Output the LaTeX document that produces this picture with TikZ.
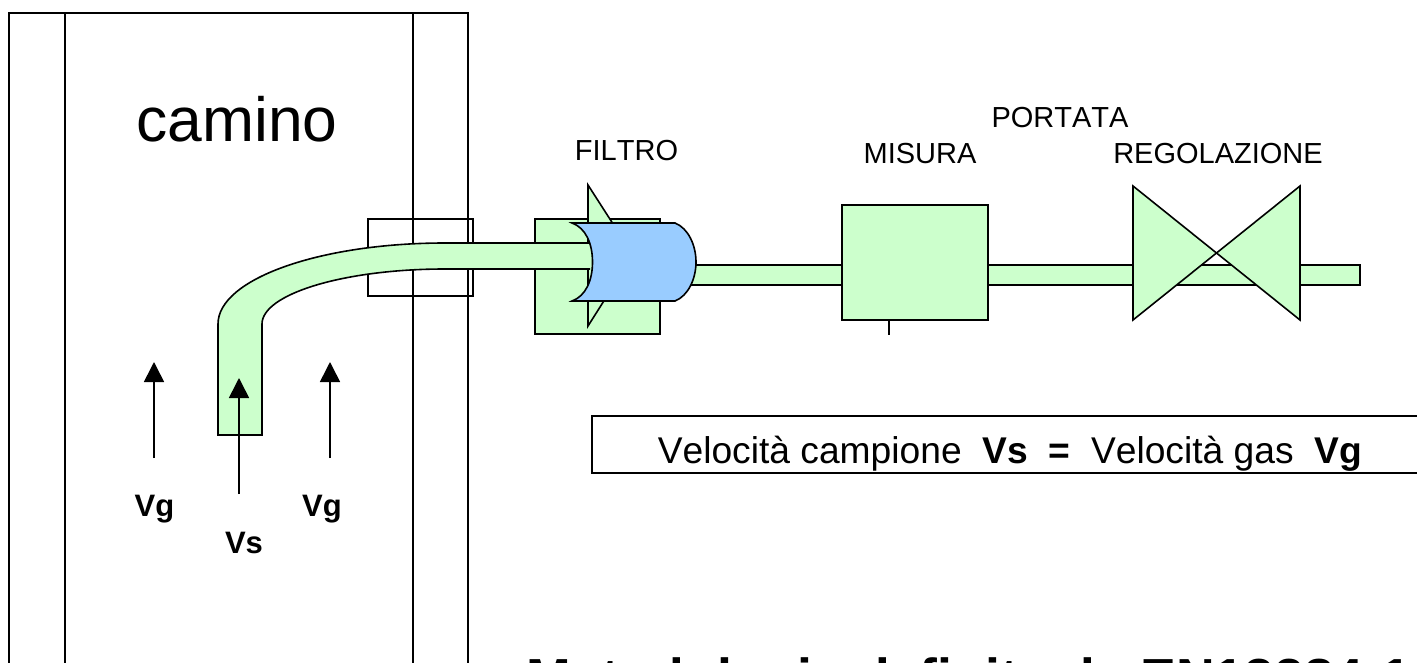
\documentclass[tikz,border=0pt]{standalone}
\usepackage{fontspec}
\setmainfont{Liberation Sans}[Kerning=Off]
\usepackage{xcolor}
\usetikzlibrary{arrows.meta,calc}
\definecolor{cPipe}{HTML}{CCFFCC}
\definecolor{cFilter}{HTML}{99CCFF}

\begin{document}
\begin{tikzpicture}[
  x=0.5pt,y=-0.5pt,
  line width=0.8pt,
  solid/.style={draw=black,fill=cPipe,line join=miter},
  ar/.style={-{Triangle[length=10pt,width=10pt]},line width=0.8pt},
  lbl/.style={inner sep=0pt,anchor=base,font=\fontsize{14.5}{16}\selectfont},
  vel/.style={inner sep=0pt,anchor=base,font=\fontsize{15.5}{18}\selectfont\bfseries}
]
\useasboundingbox (0,0) rectangle (1417,663);
\begin{scope}
\clip (0,0) rectangle (1417,663);
% --- camino ---
\draw (9,700) -- (9,13) -- (468,13) -- (468,700);
\coordinate (c1t) at (65,13);
\coordinate (c1b) at (65,700);
\coordinate (c2t) at (413,13);
\coordinate (c2b) at (413,700);
\draw (c1t) -- (c1b);
\draw (c2t) -- (c2b);
\node[inner sep=0pt,anchor=base,font=\fontsize{31.2}{36}\selectfont] (camino) at (237,142) {camino};
\draw (368,219) rectangle (473,296);
% --- filtro ---
\draw[solid] (535,219) rectangle (660,334);
\draw[solid] (588,185) -- (633,255) -- (588,326) -- cycle;
% --- linea ---
\draw[solid] (690,265) rectangle (1360,285);
\draw[solid] (842,205) rectangle (988,320);
\coordinate (stub) at (889,335);
\draw (889,320) -- (stub);
\draw[solid] (1133,186) -- (1300,320) -- (1300,186) -- (1133,320) -- cycle;
% --- sonda ---
\draw[solid] (590,243) -- (445,243) .. controls (320,243) and (218,279) .. (218,324)
  -- (218,435) -- (262,435) -- (262,324) .. controls (262,294) and (344,269) .. (445,269) -- (590,269);
\draw[draw=black,fill=cFilter] (572,223) -- (675,223) .. controls (688,228) and (696,245) .. (696,262)
  .. controls (696,279) and (688,296) .. (675,301) -- (572,301)
  .. controls (586,296) and (592.5,280) .. (592.5,262) .. controls (592.5,244) and (586,228) .. (572,223) -- cycle;
% --- frecce ---
\node[vel] (vg1) at (154.5,516) {Vg};
\node[vel] (vs) at (244,553) {Vs};
\node[vel] (vg2) at (322,516) {Vg};
\coordinate (a1) at (154,458);
\coordinate (a2) at (239,494);
\coordinate (a3) at (330,458);
\draw[ar] (a1) -- (154,362);
\draw[ar] (a2) -- (239,378);
\draw[ar] (a3) -- (330,362);
% --- etichette ---
\node[lbl] (filtro) at (626.5,161) {FILTRO};
\node[lbl] (misura) at (920,164) {MISURA};
\node[lbl] (portata) at (1060,128) {PORTATA};
\node[lbl] (regol) at (1218,164) {REGOLAZIONE};
\draw (1430,416) -- (592,416) -- (592,473) -- (1430,473);
\node[inner sep=0pt,anchor=base west,font=\fontsize{18.6}{20}\selectfont] (velo) at (657,463)
  {Velocità campione\ \ \textbf{Vs}\ \ \textbf{=}\ \ Velocità gas\ \ \textbf{Vg}};
\node[inner sep=0pt,anchor=base west,font=\fontsize{26.8}{28}\selectfont\bfseries] (metodo) at (526,696)
  {Metodologia definita da EN13284-1};
\end{scope}
\end{tikzpicture}
\end{document}
